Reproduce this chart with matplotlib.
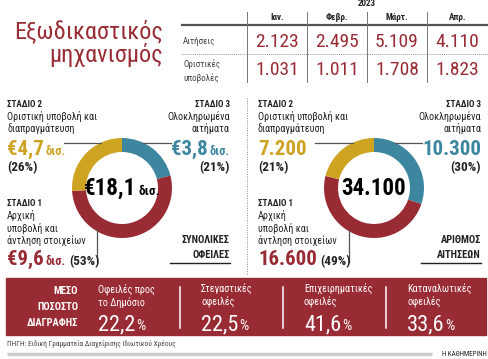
import matplotlib
matplotlib.use("Agg")
import matplotlib.pyplot as plt
from matplotlib import font_manager

# ---------------- data ----------------
months = ["Ιαν.", "Φεβρ.", "Μάρτ.", "Απρ."]
applications = [2123, 2495, 5109, 4110]
final_submissions = [1031, 1011, 1708, 1823]

stage_titles = ["ΣΤΑΔΙΟ 1", "ΣΤΑΔΙΟ 2", "ΣΤΑΔΙΟ 3"]
stage_desc = [["Αρχική", "υποβολή και", "άντληση στοιχείων"],
              ["Οριστική υποβολή και", "διαπραγμάτευση"],
              ["Ολοκληρωμένα", "αιτήματα"]]
debt_values = [9.6, 4.7, 3.8]          # € bn, stages 1,2,3
debt_pcts = [53, 26, 21]
debt_total = 18.1
app_values = [16600, 7200, 10300]      # applications, stages 1,2,3
app_pcts = [49, 21, 30]
app_total = 34100

writeoff_cats = [["Οφειλές προς", "το Δημόσιο"], ["Στεγαστικές", "οφειλές"],
                 ["Επιχειρηματικές", "οφειλές"], ["Καταναλωτικές", "οφειλές"]]
writeoff_pcts = [22.2, 22.5, 41.6, 33.6]

# ---------------- style ----------------
RED = "#992b34"
YEL = "#cfa322"
BLU = "#3d86a0"
DARK = "#222222"
GREY = "#444444"
stage_colors = [RED, YEL, BLU]

names = {f.name for f in font_manager.fontManager.ttflist}
COND = "Roboto"
for cand in ["Roboto Condensed", "Liberation Sans Narrow", "Open Sans Condensed"]:
    if cand in names:
        COND = cand
        break
FC = [COND, "DejaVu Sans"]
FN = [COND, "DejaVu Sans"]

W, H = 488, 359
fig = plt.figure(figsize=(W / 100, H / 100), dpi=100)

# main axes in pixel coordinates (drawn on top)
ax = fig.add_axes([0, 0, 1, 1])
ax.set_xlim(0, W)
ax.set_ylim(H, 0)
ax.axis("off")
ax.set_zorder(5)
renderer = fig.canvas.get_renderer()


def fmt_int(v):
    return f"{v:,}".replace(",", ".")


def fmt_dec(v):
    return f"{v:.1f}".replace(".", ",")


def chain(x, y, parts, ha="left", va="baseline", zorder=5):
    """parts: list of (text, kwargs, gap_after)"""
    objs = []
    widths = []
    for s, kw, gap in parts:
        t = ax.text(0, y, s, ha="left", va=va, zorder=zorder, **kw)
        bb = t.get_window_extent(renderer=renderer)
        objs.append(t)
        widths.append(bb.width + gap)
    total = sum(widths) - parts[-1][2]
    if ha == "left":
        cx = x
    elif ha == "right":
        cx = x - total
    else:
        cx = x - total / 2
    for t, w in zip(objs, widths):
        t.set_x(cx)
        cx += w
    return objs


# ---------------- title ----------------
ax.text(163, 38, "Εξωδικαστικός", ha="right", va="baseline", color=RED,
        fontsize=17.5, family=FN)
ax.text(163, 62, "μηχανισμός", ha="right", va="baseline", color=RED,
        fontsize=17.5, family=FN)

# ---------------- table ----------------
col_edges = [247, 307, 367, 427, 488]
ax.text(367, 4, "2023", ha="center", va="center", fontsize=6.5, weight="bold",
        color=DARK, family=FN)
ax.plot([181, 488], [25, 25], color="#555555", lw=1.6, solid_capstyle="butt")
for xe in col_edges[:-1]:
    ax.plot([xe, xe], [12, 82], color="#777777", lw=0.7)
ax.plot([181, 488], [54, 54], color="#999999", lw=0.7, ls=(0, (1, 1)))
for i, m in enumerate(months):
    cx = (col_edges[i] + col_edges[i + 1]) / 2
    ax.text(cx, 17, m, ha="center", va="center", fontsize=6.5, weight="bold",
            color=DARK, family=FN)
    ax.text(cx, 42, fmt_int(applications[i]), ha="center", va="center",
            fontsize=14, color=RED, family=FC)
    ax.text(cx, 70, fmt_int(final_submissions[i]), ha="center", va="center",
            fontsize=14, color=RED, family=FC)
ax.text(183, 42, "Αιτήσεις", ha="left", va="center", fontsize=6.5, color=GREY, family=FN)
ax.text(183, 64, "Οριστικές", ha="left", va="center", fontsize=6.5, color=GREY, family=FN)
ax.text(183, 78, "υποβολές", ha="left", va="center", fontsize=6.5, color=GREY, family=FN)

# separator between panels
ax.plot([247, 247], [98, 274], color="#888888", lw=0.7, ls=(0, (1, 1.5)))


# ---------------- donut panels ----------------
def panel(x0, cx, cy, values, pcts, total_parts, big_labels, unit, title_lines):
    r = 50
    dax = fig.add_axes([(cx - r) / W, 1 - (cy + r) / H, 2 * r / W, 2 * r / H])
    dax.set_zorder(2)
    order = [2, 0, 1]
    dax.pie([values[k] for k in order], colors=[stage_colors[k] for k in order],
            startangle=90, counterclock=False, radius=1,
            wedgeprops=dict(width=0.28, edgecolor="none"))
    dax.set_xlim(-1, 1)
    dax.set_ylim(-1, 1)
    dax.axis("off")

    # leader lines, stopping at the outer edge of the ring
    yl = 143
    dx = (r ** 2 - (cy - yl) ** 2) ** 0.5
    ax.plot([x0 + 64, cx - dx + 1], [yl, yl], color="#555555", lw=0.9)
    ax.plot([cx + dx - 1, x0 + 171], [yl, yl], color="#555555", lw=0.9)
    xv = cx - 25
    dy = (r ** 2 - 25 ** 2) ** 0.5
    ax.plot([xv, xv], [cy + dy - 1, 262], color="#555555", lw=0.9)

    # center total
    chain(cx, cy + 7, total_parts, ha="center")
    xl = x0 + 7
    xr = x0 + 230
    # stage 2 (left top)
    ax.text(xl, 107, stage_titles[1], fontsize=6.5, weight="bold", color=DARK,
            family=FN, va="baseline")
    for j, line in enumerate(stage_desc[1]):
        ax.text(xl, 120 + 12.5 * j, line, fontsize=7.3, color=DARK, family=FN, va="baseline")
    parts = [(big_labels[1], dict(fontsize=15, weight="bold", color=YEL, family=FC), 2)]
    if unit:
        parts.append((unit, dict(fontsize=9, weight="bold", color=YEL, family=FC), 0))
    chain(xl, 155, parts)
    ax.text(xl, 171, f"({pcts[1]}%)", fontsize=9.5, color=DARK, family=FC,
            weight="bold", va="baseline")
    # stage 3 (right top)
    ax.text(xr, 107, stage_titles[2], fontsize=6.5, weight="bold", color=DARK,
            family=FN, ha="right", va="baseline")
    for j, line in enumerate(stage_desc[2]):
        ax.text(xr, 120 + 12.5 * j, line, fontsize=7.3, color=DARK, family=FN,
                ha="right", va="baseline")
    parts = [(big_labels[2], dict(fontsize=15, weight="bold", color=BLU, family=FC), 2)]
    if unit:
        parts.append((unit, dict(fontsize=9, weight="bold", color=BLU, family=FC), 0))
    chain(xr, 155, parts, ha="right")
    ax.text(xr, 171, f"({pcts[2]}%)", fontsize=9.5, color=DARK, family=FC,
            weight="bold", ha="right", va="baseline")
    # stage 1 (left bottom)
    ax.text(xl, 206, stage_titles[0], fontsize=6.5, weight="bold", color=DARK,
            family=FN, va="baseline")
    for j, line in enumerate(stage_desc[0]):
        ax.text(xl, 219 + 12.5 * j, line, fontsize=7.3, color=DARK, family=FN, va="baseline")
    parts = [(big_labels[0], dict(fontsize=15, weight="bold", color=RED, family=FC), 2)]
    if unit:
        parts.append((unit, dict(fontsize=9, weight="bold", color=RED, family=FC), 3))
    else:
        parts[0] = (big_labels[0], parts[0][1], 3)
    parts.append((f"({pcts[0]}%)", dict(fontsize=9.5, weight="bold", color=DARK, family=FC), 0))
    chain(xl, 265, parts)
    # panel title
    ax.text(xr, 243, title_lines[0], fontsize=7.5, weight="bold", color=DARK,
            family=FN, ha="right", va="baseline")
    ax.text(xr, 258, title_lines[1], fontsize=7.5, weight="bold", color=DARK,
            family=FN, ha="right", va="baseline")
    ax.plot([xr - 60, xr], [263, 263], color=DARK, lw=1.0)


panel(0, 122, 188, debt_values, debt_pcts,
      [("€" + fmt_dec(debt_total), dict(fontsize=16.5, weight="bold", color="black", family=FC), 2),
       ("δισ.", dict(fontsize=9.5, weight="bold", color="black", family=FC), 0)],
      ["€" + fmt_dec(v) for v in debt_values], "δισ.", ["ΣΥΝΟΛΙΚΕΣ", "ΟΦΕΙΛΕΣ"])
panel(251, 374, 188, app_values, app_pcts,
      [(fmt_int(app_total), dict(fontsize=16.5, weight="bold", color="black", family=FC), 0)],
      [fmt_int(v) for v in app_values], "", ["ΑΡΙΘΜΟΣ", "ΑΙΤΗΣΕΩΝ"])

# ---------------- bottom band ----------------
ax.add_patch(plt.Rectangle((6, 278), 480, 57, color=RED, zorder=0))
for j, line in enumerate(["ΜΕΣΟ", "ΠΟΣΟΣΤΟ", "ΔΙΑΓΡΑΦΗΣ"]):
    ax.text(78, 294 + 16 * j, line, fontsize=7.5, weight="bold", color="white",
            family=FN, ha="right", va="baseline")
col_x = [98, 201, 304, 407]
for i in range(4):
    for j, line in enumerate(writeoff_cats[i]):
        ax.text(col_x[i], 293 + 12.5 * j, line, fontsize=7.3, color="white",
                family=FN, va="baseline")
    chain(col_x[i], 330, [(fmt_dec(writeoff_pcts[i]), dict(fontsize=16, color="white", family=FC), 1),
                          ("%", dict(fontsize=10.5, color="white", family=FC), 0)])
for xs in [180, 283, 386]:
    ax.plot([xs, xs], [287, 328], color="white", lw=1.1)

# ---------------- footer ----------------
ax.text(7, 344, "ΠΗΓΗ: Ειδική Γραμματεία Διαχείρισης Ιδιωτικού Χρέους", fontsize=5.3,
        color=GREY, family=FN, va="center")
ax.plot([7, 432], [354, 354], color="#cccccc", lw=2.5, solid_capstyle="butt")
ax.text(487, 354, "Η ΚΑΘΗΜΕΡΙΝΗ", fontsize=5.0, color=DARK, family=FN,
        ha="right", va="center")

fig.savefig("out.png", dpi=100)
